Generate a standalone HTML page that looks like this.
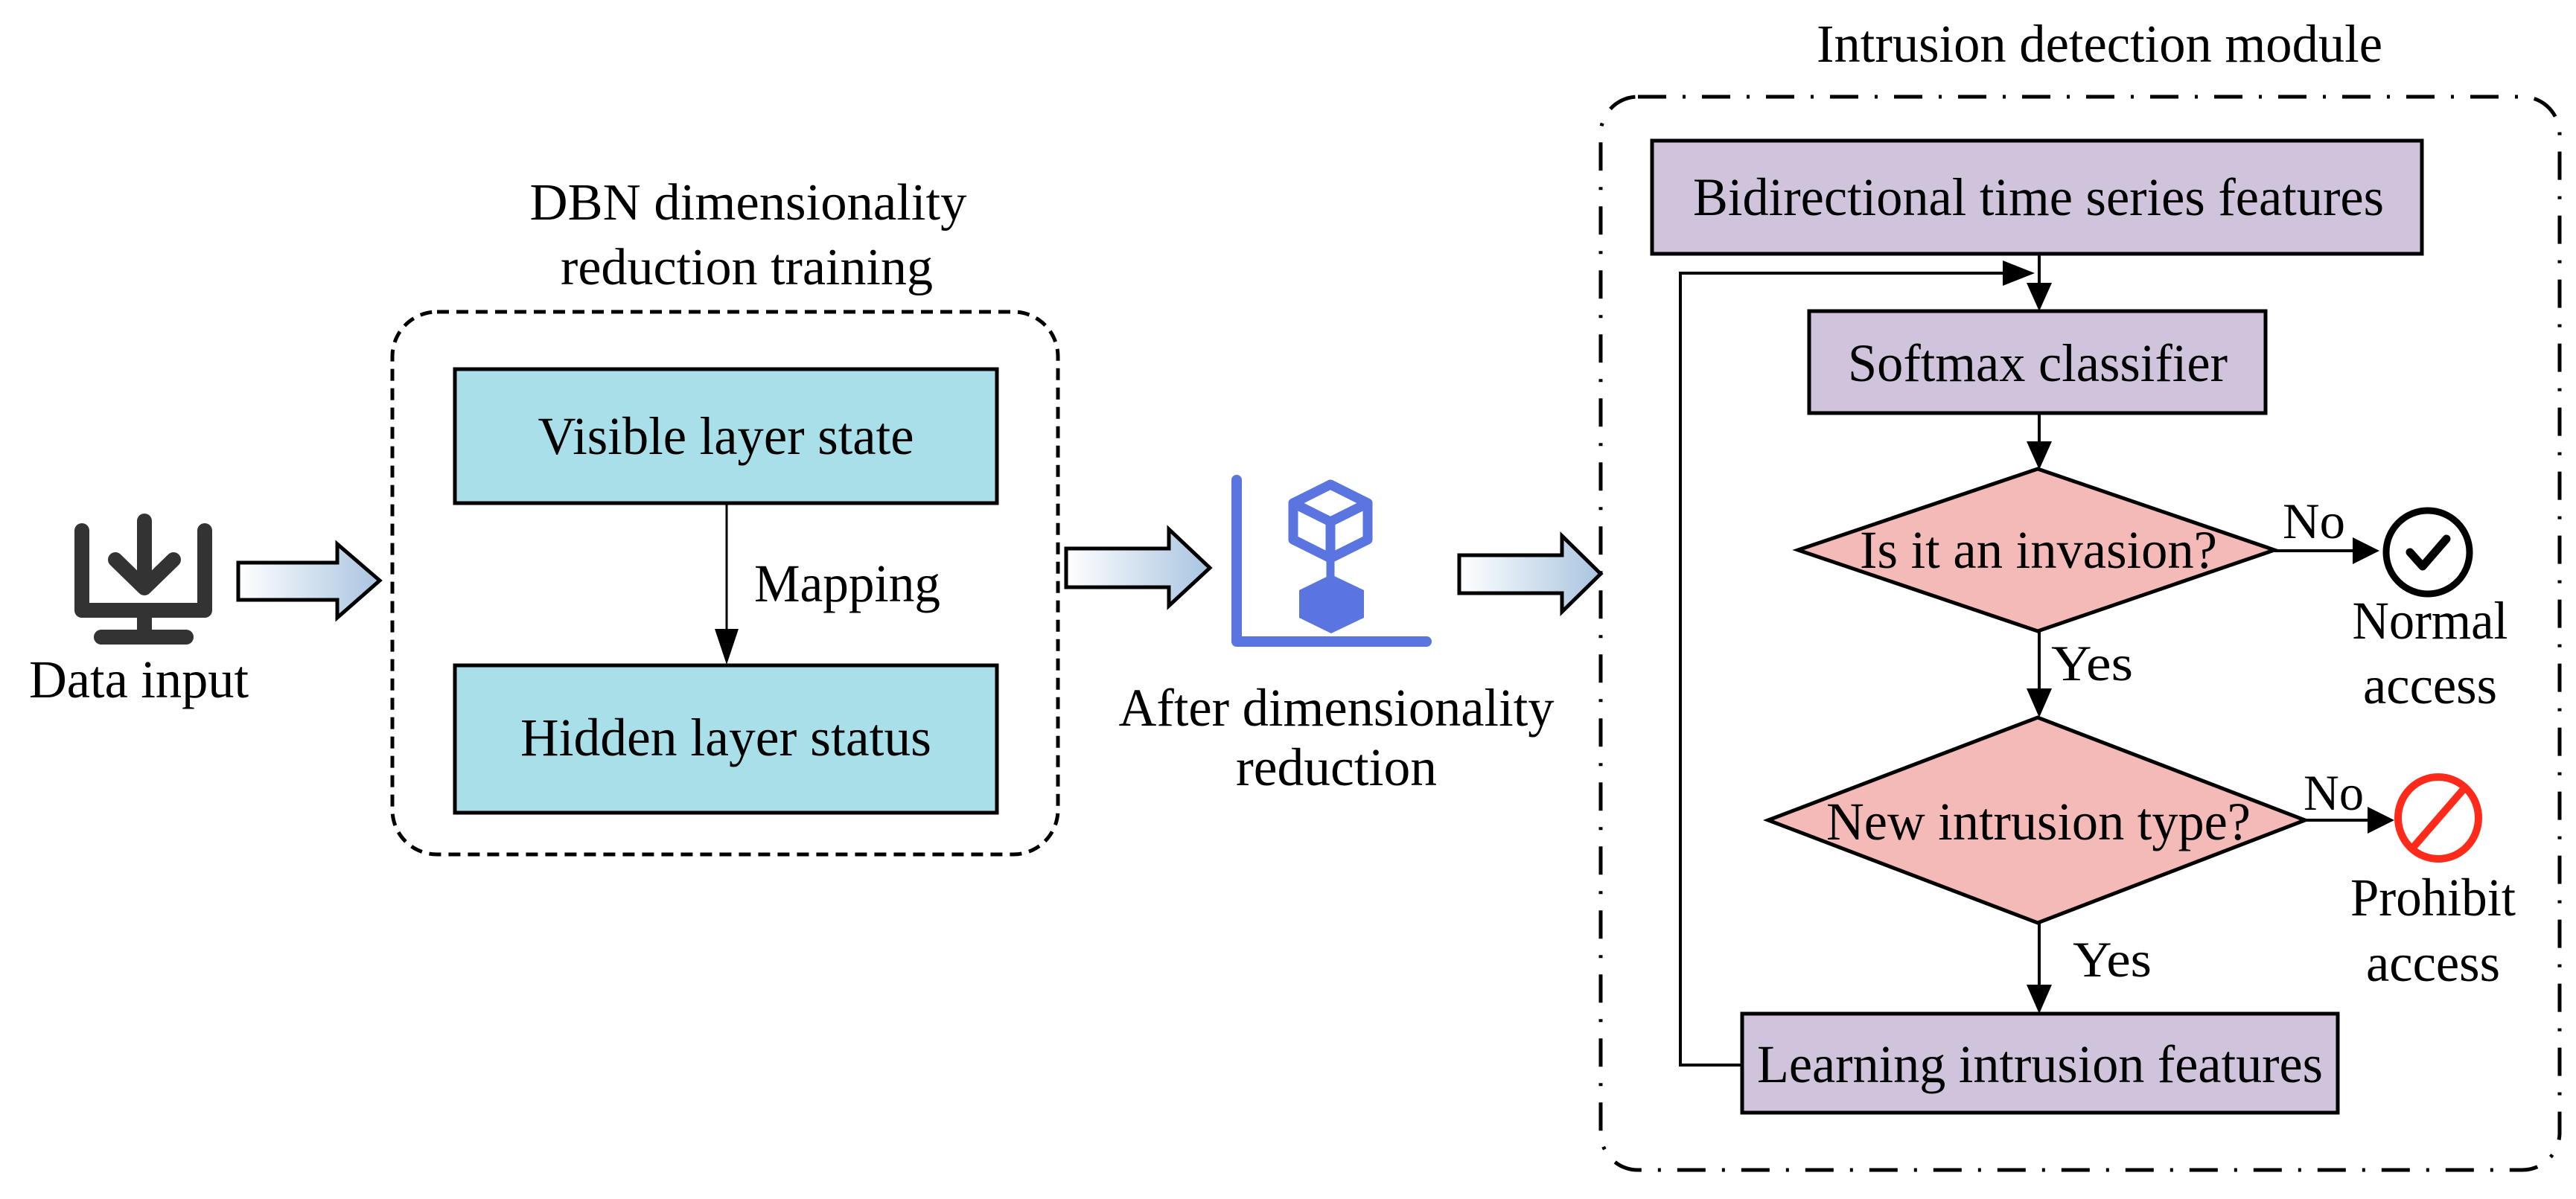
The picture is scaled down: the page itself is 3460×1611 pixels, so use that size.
<!DOCTYPE html>
<html><head><meta charset="utf-8"><style>
html,body{margin:0;padding:0;background:#fff;}
svg{display:block;}
text{font-family:"Liberation Serif","Times New Roman",serif;fill:#000;}
</style></head><body>
<svg width="3460" height="1611" viewBox="0 0 3460 1611" xmlns="http://www.w3.org/2000/svg">
<defs>
<linearGradient id="ag" x1="0" y1="0" x2="1" y2="0">
<stop offset="0" stop-color="#ffffff"/><stop offset="1" stop-color="#a9c4e0"/>
</linearGradient>
</defs>

<!-- Data input icon -->
<g fill="none" stroke="#333" stroke-width="20" stroke-linecap="round" stroke-linejoin="round">
<path d="M110,713 V820 H275 V713"/>
<path d="M194,700 V780"/>
<path d="M155,752 L194,790 L233,752"/>
<path d="M194,830 V852"/>
<path d="M136,856 H250"/>
</g>
<text x="39" y="937" font-size="72" textLength="295" lengthAdjust="spacingAndGlyphs">Data input</text>

<!-- Block arrows -->
<path d="M320,756 H453 V731 L510,780 L453,830 V806 H320 Z" fill="url(#ag)" stroke="#000" stroke-width="5"/>
<path d="M1432,737 H1570 V711 L1625,763 L1570,814 V789 H1432 Z" fill="url(#ag)" stroke="#000" stroke-width="5"/>
<path d="M1960,746 H2098 V720 L2150,771 L2098,822 V797 H1960 Z" fill="url(#ag)" stroke="#000" stroke-width="5"/>

<!-- DBN -->
<text x="1005" y="295" font-size="70" text-anchor="middle" textLength="587" lengthAdjust="spacingAndGlyphs">DBN dimensionality</text>
<text x="1003" y="382" font-size="70" text-anchor="middle" textLength="500" lengthAdjust="spacingAndGlyphs">reduction training</text>
<rect x="527" y="419" width="894" height="729" rx="60" fill="none" stroke="#000" stroke-width="5" stroke-dasharray="16,10"/>
<rect x="611" y="496" width="728" height="180" fill="#a8dfe9" stroke="#000" stroke-width="5"/>
<text x="975" y="610" font-size="72" text-anchor="middle" textLength="505" lengthAdjust="spacingAndGlyphs">Visible layer state</text>
<rect x="611" y="894" width="728" height="198" fill="#a8dfe9" stroke="#000" stroke-width="5"/>
<text x="975" y="1015" font-size="72" text-anchor="middle" textLength="552" lengthAdjust="spacingAndGlyphs">Hidden layer status</text>
<line x1="976" y1="676" x2="976" y2="860" stroke="#000" stroke-width="3"/>
<path d="M960,845 L976,893 L992,845 Z" fill="#000"/>
<text x="1013" y="808" font-size="72" textLength="250" lengthAdjust="spacingAndGlyphs">Mapping</text>

<!-- reduction icon -->
<g stroke="#5b75e0" fill="none" stroke-linecap="round" stroke-linejoin="round">
<path d="M1661,645 V862 H1916" stroke-width="14"/>
<path d="M1787,651 L1837,676 V725 L1787,750 L1737,725 V676 Z" stroke-width="13"/>
<path d="M1737,676 L1787,701 L1837,676 M1787,701 V750" stroke-width="13"/>
<path d="M1787,750 V775" stroke-width="11"/>
</g>
<path d="M1788,772 L1832,793 V830 L1788,851 L1745,830 V793 Z" fill="#5b75e0"/>
<text x="1795" y="975" font-size="72" text-anchor="middle" textLength="585" lengthAdjust="spacingAndGlyphs">After dimensionality</text>
<text x="1795" y="1055" font-size="72" text-anchor="middle" textLength="270" lengthAdjust="spacingAndGlyphs">reduction</text>

<!-- Intrusion detection module -->
<text x="2820" y="83" font-size="72" text-anchor="middle" textLength="760" lengthAdjust="spacingAndGlyphs">Intrusion detection module</text>
<rect x="2150" y="130" width="1288" height="1442" rx="50" fill="none" stroke="#000" stroke-width="5" stroke-dasharray="38,22,4,22"/>

<rect x="2219" y="189" width="1034" height="152" fill="#d0c3dc" stroke="#000" stroke-width="5"/>
<text x="2738" y="289" font-size="72" text-anchor="middle" textLength="928" lengthAdjust="spacingAndGlyphs">Bidirectional time series features</text>

<rect x="2430" y="418" width="613" height="137" fill="#d0c3dc" stroke="#000" stroke-width="5"/>
<text x="2737" y="512" font-size="72" text-anchor="middle" textLength="510" lengthAdjust="spacingAndGlyphs">Softmax classifier</text>

<line x1="2739" y1="341" x2="2739" y2="395" stroke="#000" stroke-width="4"/>
<path d="M2722,380 L2739,418 L2756,380 Z" fill="#000"/>

<!-- loop -->
<polyline points="2340,1431 2257,1431 2257,367 2705,367" fill="none" stroke="#000" stroke-width="4"/>
<path d="M2690,350 L2733,367 L2690,384 Z" fill="#000"/>

<line x1="2739" y1="555" x2="2739" y2="605" stroke="#000" stroke-width="4"/>
<path d="M2722,593 L2739,631 L2756,593 Z" fill="#000"/>

<polygon points="2415,739 2737,630 3055,739 2737,848" fill="#f3bab8" stroke="#000" stroke-width="5"/>
<text x="2738" y="763" font-size="72" text-anchor="middle" textLength="480" lengthAdjust="spacingAndGlyphs">Is it an invasion?</text>

<line x1="3055" y1="740" x2="3170" y2="740" stroke="#000" stroke-width="4"/>
<path d="M3160,722 L3196,740 L3160,758 Z" fill="#000"/>
<text x="3066" y="723" font-size="68" textLength="84" lengthAdjust="spacingAndGlyphs">No</text>
<circle cx="3261" cy="742" r="56" fill="none" stroke="#000" stroke-width="9"/>
<path d="M3237,742 L3254,761 L3286,724" fill="none" stroke="#000" stroke-width="11" stroke-linecap="round" stroke-linejoin="round"/>
<text x="3264" y="858" font-size="72" text-anchor="middle" textLength="209" lengthAdjust="spacingAndGlyphs">Normal</text>
<text x="3264" y="945" font-size="72" text-anchor="middle" textLength="180" lengthAdjust="spacingAndGlyphs">access</text>

<line x1="2739" y1="848" x2="2739" y2="930" stroke="#000" stroke-width="4"/>
<path d="M2722,925 L2739,964 L2756,925 Z" fill="#000"/>
<text x="2755" y="914" font-size="68" textLength="110" lengthAdjust="spacingAndGlyphs">Yes</text>

<polygon points="2375,1102 2737,964 3096,1102 2737,1240" fill="#f3bab8" stroke="#000" stroke-width="5"/>
<text x="2738" y="1128" font-size="72" text-anchor="middle" textLength="570" lengthAdjust="spacingAndGlyphs">New intrusion type?</text>

<line x1="3096" y1="1102" x2="3190" y2="1102" stroke="#000" stroke-width="4"/>
<path d="M3180,1084 L3216,1102 L3180,1120 Z" fill="#000"/>
<text x="3094" y="1088" font-size="68" textLength="81" lengthAdjust="spacingAndGlyphs">No</text>
<ellipse cx="3275" cy="1099" rx="54" ry="55" fill="none" stroke="#ff2a1a" stroke-width="10"/>
<line x1="3311" y1="1058" x2="3240" y2="1140" stroke="#ff2a1a" stroke-width="10"/>
<text x="3268" y="1230" font-size="72" text-anchor="middle" textLength="222" lengthAdjust="spacingAndGlyphs">Prohibit</text>
<text x="3268" y="1318" font-size="72" text-anchor="middle" textLength="180" lengthAdjust="spacingAndGlyphs">access</text>

<line x1="2739" y1="1240" x2="2739" y2="1330" stroke="#000" stroke-width="4"/>
<path d="M2722,1323 L2739,1362 L2756,1323 Z" fill="#000"/>
<text x="2784" y="1312" font-size="68" textLength="106" lengthAdjust="spacingAndGlyphs">Yes</text>

<rect x="2340" y="1362" width="800" height="133" fill="#d0c3dc" stroke="#000" stroke-width="5"/>
<text x="2740" y="1454" font-size="72" text-anchor="middle" textLength="760" lengthAdjust="spacingAndGlyphs">Learning intrusion features</text>
</svg>
</body></html>
